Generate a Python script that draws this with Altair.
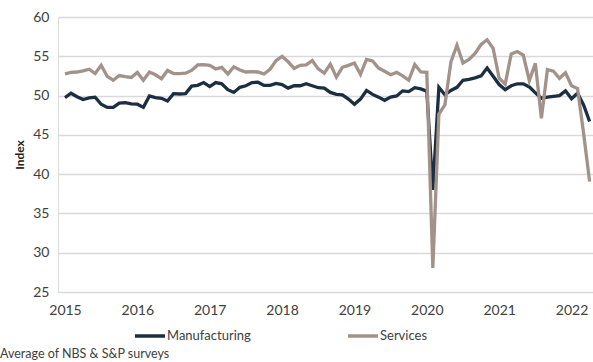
import altair as alt
import pandas as pd

years = [2015, 2016, 2017, 2018, 2019, 2020, 2021, 2022]

manufacturing = [
    49.75, 50.3, 49.85, 49.5, 49.7, 49.8, 48.9, 48.5, 48.5, 49.05, 49.1, 48.95,
    48.9, 48.5, 49.95, 49.75, 49.65, 49.3, 50.25, 50.2, 50.25, 51.2, 51.3, 51.65,
    51.15, 51.65, 51.5, 50.75, 50.4, 51.05, 51.25, 51.65, 51.7, 51.3, 51.3, 51.55,
    51.4, 50.95, 51.25, 51.25, 51.5, 51.25, 51.0, 50.95, 50.4, 50.15, 50.1, 49.55,
    48.9, 49.55, 50.65, 50.15, 49.8, 49.4, 49.8, 49.95, 50.6, 50.5, 51.0, 50.85,
    50.55, 38.0, 51.05, 50.1, 50.65, 51.05, 51.95, 52.05, 52.25, 52.5, 53.5, 52.45,
    51.4, 50.75, 51.25, 51.5, 51.5, 51.1, 50.35, 49.65, 49.8, 49.9, 50.0, 50.6,
    49.6, 50.3, 48.8, 46.7,
]

services = [
    52.75, 52.95, 53.0, 53.15, 53.35, 52.8, 53.85, 52.45, 51.95, 52.55, 52.4, 52.3,
    52.95, 51.95, 53.0, 52.65, 52.15, 53.2, 52.8, 52.8, 52.85, 53.2, 53.9, 53.95,
    53.85, 53.4, 53.6, 52.75, 53.65, 53.25, 53.0, 53.05, 53.0, 52.75, 53.35, 54.45,
    55.0, 54.3, 53.45, 53.85, 53.9, 54.45, 53.4, 52.85, 54.0, 52.35, 53.6, 53.85,
    54.15, 52.7, 54.6, 54.4, 53.5, 53.1, 52.65, 52.95, 52.5, 51.95, 53.95, 53.0,
    52.95, 28.05, 47.65, 48.8, 54.3, 56.4, 54.15, 54.6, 55.35, 56.5, 57.1, 56.0,
    52.2, 51.45, 55.3, 55.6, 55.15, 51.9, 54.1, 47.1, 53.3, 53.1, 52.2, 52.9,
    51.25, 50.9, 45.2, 39.05,
]

series_names = ["Manufacturing", "Services"]
series_colors = ["#1b2e42", "#a2928a"]
y_ticks = [25, 30, 35, 40, 45, 50, 55, 60]
footnote = "Average of NBS & S&P surveys"

rows = []
for name, vals in zip(series_names, [manufacturing, services]):
    for i, v in enumerate(vals):
        rows.append({"month": i, "value": v, "series": name})
df = pd.DataFrame(rows)

FONT = "Lato"
TXT = "#404040"

x_enc = alt.X(
    "month:Q",
    scale=alt.Scale(domain=[-1.16, 87.56], nice=False, zero=False),
    axis=alt.Axis(
        values=[(y - 2015) * 12 for y in years],
        labelExpr="2015 + datum.value / 12",
        title=None, grid=False, ticks=False, domain=False,
        labelFont=FONT, labelFontSize=14, labelColor=TXT, labelPadding=11,
    ),
)
y_enc = alt.Y(
    "value:Q",
    scale=alt.Scale(domain=[25, 60], nice=False, zero=False),
    axis=alt.Axis(
        values=y_ticks, title="Index", grid=True, gridColor="#d9d9d9",
        gridWidth=1.5, ticks=False, domain=False,
        labelFont=FONT, labelFontSize=14, labelColor=TXT, labelPadding=9,
        titleFont=FONT, titleFontSize=12, titleFontWeight="bold",
        titleColor="#222222", titlePadding=6,
    ),
)

lines = alt.Chart(df).mark_line(strokeWidth=3.3, strokeJoin="miter").encode(
    x=x_enc,
    y=y_enc,
    color=alt.Color(
        "series:N",
        scale=alt.Scale(domain=series_names, range=series_colors),
        legend=alt.Legend(
            title=None, orient="none", direction="horizontal",
            legendX=75, legendY=302, symbolType="stroke",
            symbolStrokeWidth=3.5, symbolSize=900, labelOffset=0,
            columnPadding=90, labelFont=FONT, labelFontSize=13,
            labelColor=TXT,
        ),
    ),
    order=alt.Order("series:N"),
)

foot = alt.Chart(pd.DataFrame({"t": [footnote]})).mark_text(
    align="left", baseline="middle", font=FONT, fontSize=12.5, color=TXT
).encode(x=alt.value(-58), y=alt.value(337), text="t:N")

chart = alt.layer(lines, foot).properties(
    width=535, height=275,
    padding={"left": 58, "top": 17, "right": 0, "bottom": 70},
    autosize=alt.AutoSizeParams(type="none"),
).configure_view(stroke=None).configure(background="white")

chart.save("out.html", embed_options={"renderer": "svg", "actions": False})
